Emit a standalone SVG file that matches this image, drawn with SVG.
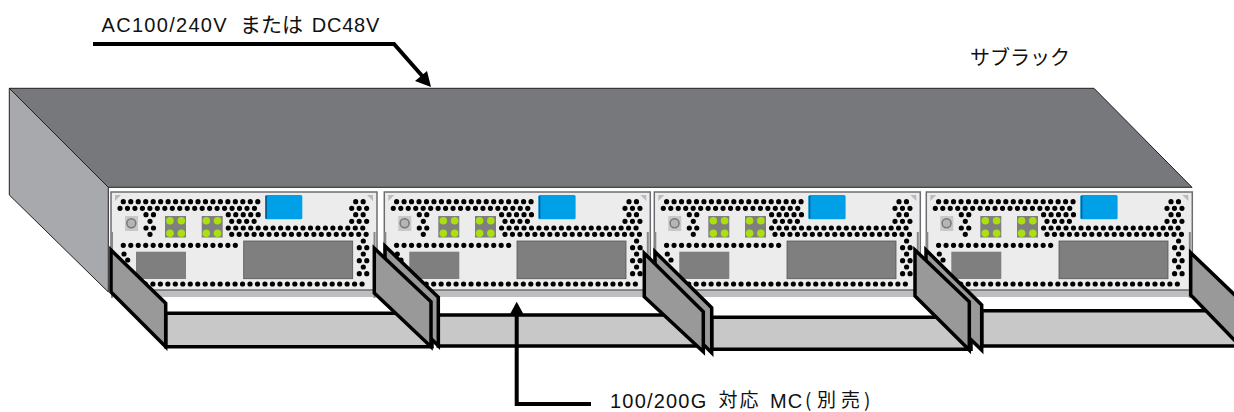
<svg xmlns="http://www.w3.org/2000/svg" width="1234" height="412" viewBox="0 0 1234 412">
<style>
text{font-family:"Liberation Sans","Noto Sans CJK JP",sans-serif;font-size:20px;fill:#111}
.j{font-family:"Noto Sans CJK JP",sans-serif;font-size:21px}
.k{font-family:"Noto Sans CJK JP",sans-serif;font-size:19px}
.face{stroke:#231f20;stroke-width:1;stroke-linejoin:round}
.d{fill:none;stroke:#000;stroke-width:5.200;stroke-linecap:round;stroke-dasharray:0 7.47}
.h{fill:#999;stroke:#000;stroke-width:3.500;stroke-linejoin:miter}
.t{fill:#c8c8c8;stroke:#000;stroke-width:3.500}
.g{fill:#7f7f7f}
.l{fill:#aadf12}
.a{fill:none;stroke:#000;stroke-width:4}
</style>
<defs>
<g id="mc">
<rect x="111" y="290" width="266" height="7" fill="#bcbec0"/>
<rect x="111" y="192" width="266" height="98" fill="#ececec" stroke="#6d6e71" stroke-width="1.500"/>
<path d="M115 195h6l-6 6zM373 195h-6l6 6z" fill="#bbb"/>
<path d="M112 232v66M374.500 232v66" stroke="#888" stroke-width="2" fill="none"/>
<path d="M123.300 201.700H259M120 208.300H256M228.300 214.700H259M231.700 221.300H257M228.300 228H364M231.700 234.300H367M123.300 245.300H237M130.500 284H366M146 214.700H154M146 228H154M355.700 201.700H364M351.700 208.300H367M355.700 214.700H364M351.700 221.300H367M359.300 247.700H367M359.300 260.700H367M359.300 273.700H367" class="d"/>
<path d="M150 221.300h.01M150 234.300h.01M363.300 241h.01M363.300 254h.01M363.300 267h.01M124 254h.01M127.700 260h.01" class="d"/>
<rect x="125" y="216" width="13" height="15" fill="#c8c8c8"/>
<circle cx="131.300" cy="223.300" r="4.500" fill="#b5b5b5" stroke="#777" stroke-width="1.500"/>
<rect class="g" x="165" y="216" width="21" height="21.500"/>
<rect class="g" x="201.700" y="216" width="21" height="21.500"/>
<g class="l"><circle cx="170" cy="220.700" r="3.800"/><circle cx="181.300" cy="220.700" r="3.800"/><circle cx="170" cy="233.300" r="3.800"/><circle cx="181.300" cy="233.300" r="3.800"/><circle cx="206.300" cy="220.700" r="3.800"/><circle cx="217.500" cy="220.700" r="3.800"/><circle cx="206.300" cy="233.300" r="3.800"/><circle cx="217.500" cy="233.300" r="3.800"/></g>
<rect x="265" y="195" width="37.300" height="24.300" rx="1.500" fill="#00a0e9"/>
<rect x="265.500" y="196" width="1.500" height="22.500" fill="#0b5c8f"/>
<rect class="g" x="136" y="251.700" width="50" height="27.300"/>
<rect class="g" x="243.700" y="241" width="109" height="37.700" stroke="#555" stroke-width=".8"/>
</g>
</defs>
<g id="rack">
<path class="face" fill="#a7a9ac" d="M9.300 88.300L108.300 187.300V292L9.300 195Z"/>
<path class="face" fill="#77787b" d="M9.300 88.300H1094L1192 187.300H108.300Z"/>
</g>
<g id="tray-1"><path class="t" d="M165.700 313.300H432V346.700H165.700Z"/></g>
<g id="tray-2"><path class="t" d="M438.300 315H705V346H438.300Z"/></g>
<g id="tray-3"><path class="t" d="M711.700 317.300H971V349.300H711.700Z"/></g>
<g id="tray-4"><path class="t" d="M981.700 310.700H1240V346H981.700Z"/></g>
<g id="module-1"><use href="#mc"/></g>
<g id="module-2"><use href="#mc" x="273.300"/></g>
<g id="module-3"><use href="#mc" x="543.300"/></g>
<g id="module-4"><use href="#mc" x="815.300"/></g>
<g id="handles">
<path class="h" d="M111 250L165.700 303.300V346.700L111 292Z"/>
<path class="h" d="M385 246L438.300 297.300V345.700L385 293Z"/>
<path class="h" d="M374.300 248.300L431 301.700V346.700L374.300 293Z"/>
<path class="h" d="M655 251.700L711.700 307.700V352.700L655 296Z"/>
<path class="h" d="M644.300 253.300L703.300 311.700V351.700L644.300 296.700Z"/>
<path class="h" d="M926 250L981.700 305V350L926 296Z"/>
<path class="h" d="M915 250L969.300 301.700V350L915 296Z"/>
<path class="h" d="M1190.700 252.700L1240 300V346L1190.700 295Z"/>
</g>
<g id="connectors">
<path class="a" d="M93 44H394L424 78"/>
<path d="M431 87L415 81L427 71Z"/>
<path class="a" d="M591 404H516.700V314"/>
<path d="M516.700 301.700L509 316H524.500Z"/>
</g>
<g id="labels">
<text y="32"><tspan x="101.500" letter-spacing="1.300">AC100/240V</tspan><tspan x="240" class="j">または</tspan><tspan x="311.700" letter-spacing=".8">DC48V</tspan></text>
<text class="j" x="970" y="65" style="font-size:20px">サブラック</text>
<text y="408"><tspan x="610" letter-spacing="1.200">100/200G</tspan><tspan x="718.500" y="406.500" class="k" letter-spacing="2">対応</tspan><tspan x="770" y="408" letter-spacing="1">MC</tspan><tspan x="805 817 841 864" y="406.500" class="k">(別売)</tspan></text>
</g>
</svg>
